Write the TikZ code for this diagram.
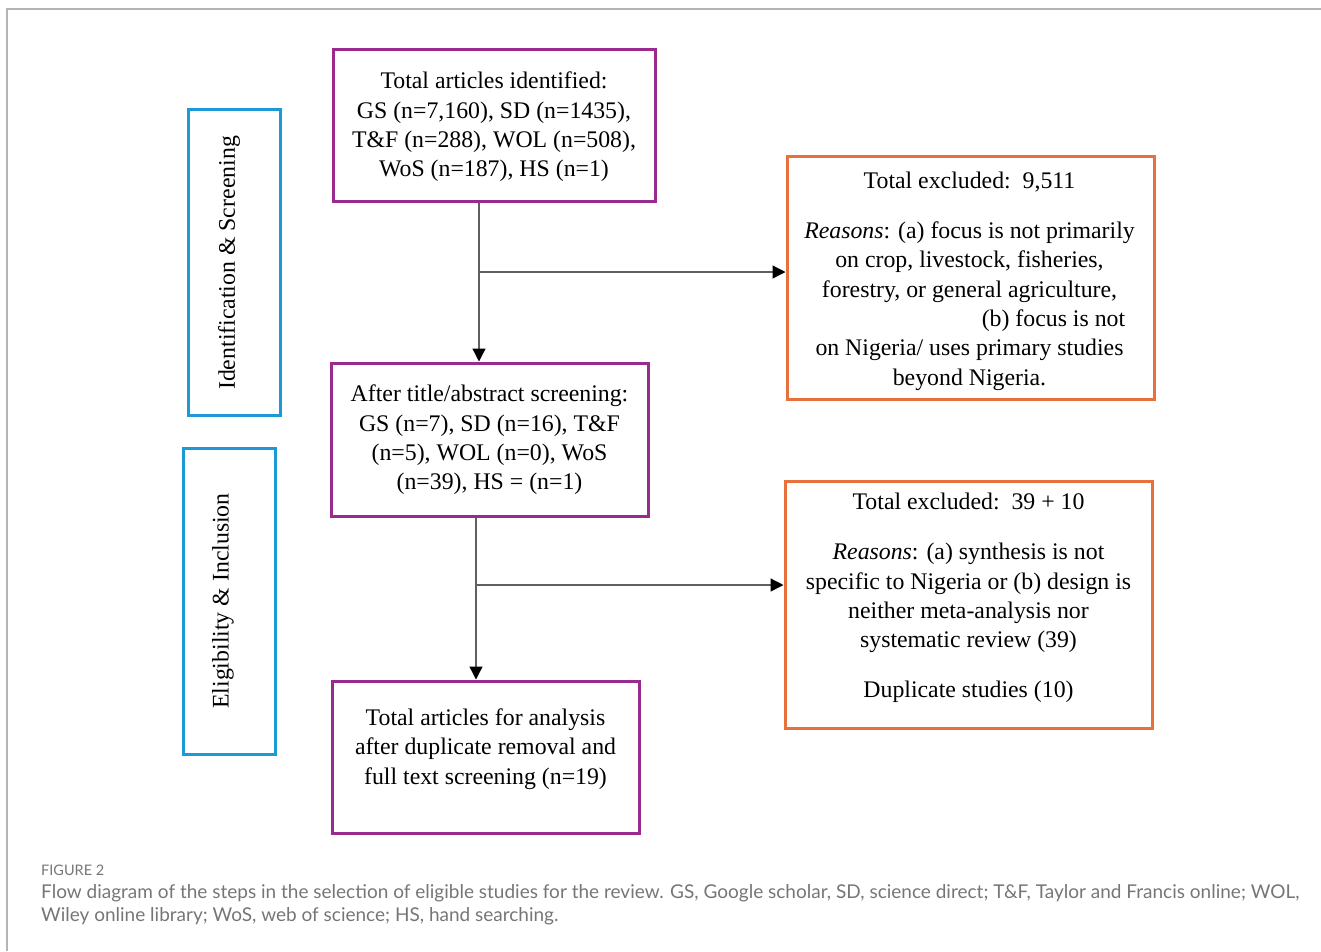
\documentclass[tikz,border=0pt]{standalone}
\usepackage{fontspec}
\setmainfont{Liberation Serif}
\newfontfamily\capfont{Lato}
\usetikzlibrary{arrows.meta}
\definecolor{pur}{HTML}{9B2A8F}
\definecolor{org}{HTML}{E8703A}
\definecolor{blu}{HTML}{1C9AD6}
\definecolor{frm}{HTML}{B4B4B4}
\definecolor{capg}{HTML}{767676}
\definecolor{lin}{HTML}{606060}
\begin{document}
\begin{tikzpicture}[x=1pt,y=-1pt,
  pbox/.style={draw=pur, line width=3pt, inner sep=0pt},
  obox/.style={draw=org, line width=3pt, inner sep=0pt},
  bbox/.style={draw=blu, line width=3pt, inner sep=0pt},
  txt/.style={font=\fontsize{23.8}{29.3}\selectfont, align=center, inner sep=0pt},
  conn/.style={draw=lin, line width=1.3pt},
  arr/.style={conn, -{Triangle[length=13pt,width=13pt,color=black]}},
  captxt/.style={font=\capfont\fontsize{19}{23}\selectfont, text=capg, inner sep=0pt, anchor=base west}
]
\useasboundingbox (0,0) rectangle (1321,951);
% frame
\draw[frm, line width=2pt] (7,951) -- (7,9) -- (1321,9);

% side labels
\node[bbox, minimum width=92pt, minimum height=306pt] (s1) at (234,262) {};
\node[txt, rotate=90] (s1t) at (229,263) {Identification \& Screening};
\node[bbox, minimum width=92pt, minimum height=306pt] (s2) at (229,601) {};
\node[txt, rotate=90] (s2t) at (223,601) {Eligibility \& Inclusion};

% main boxes
\node[pbox, minimum width=322pt, minimum height=152pt] (b1) at (494,125) {};
\node[txt] (b1t) at (494,127) {Total articles identified:\\ GS (n=7,160), SD (n=1435),\\ T\&F (n=288), WOL (n=508),\\ WoS (n=187), HS (n=1)};

\node[pbox, minimum width=317pt, minimum height=153pt] (b2) at (489.5,439.5) {};
\node[txt] (b2t) at (489.5,440) {After title/abstract screening:\\ GS (n=7), SD (n=16), T\&F\\ (n=5), WOL (n=0), WoS\\ (n=39), HS = (n=1)};

\node[pbox, minimum width=307pt, minimum height=152pt] (b3) at (485.5,757) {};
\node[txt] (b3t) at (485.5,749) {Total articles for analysis\\ after duplicate removal and\\ full text screening (n=19)};

% exclusion boxes
\node[obox, minimum width=367pt, minimum height=243pt] (o1) at (970.5,277.5) {};
\node[txt] (o1t) at (969.5,281) {Total excluded:\, 9,511\\[21pt]
  \textit{Reasons}: (a) focus is not primarily\\
  on crop, livestock, fisheries,\\
  forestry, or general agriculture,\\
  \hspace*{168pt}(b) focus is not\\
  on Nigeria/ uses primary studies\\
  beyond Nigeria.};

\node[obox, minimum width=367pt, minimum height=247pt] (o2) at (968.5,604.5) {};
\node[txt] (o2t) at (968.5,598) {Total excluded:\, 39 + 10\\[21pt]
  \textit{Reasons}: (a) synthesis is not\\
  specific to Nigeria or (b) design is\\
  neither meta-analysis nor\\
  systematic review (39)\\[21pt]
  Duplicate studies (10)};

% connectors
\coordinate (x1) at (479,0);
\coordinate (j1) at (479,272);
\draw[arr] (b1.south -| x1) -- (b2.north -| x1);
\draw[arr] (j1) -- (o1.west |- j1);

\coordinate (x2) at (476,0);
\coordinate (j2) at (477,585);
\draw[arr] (b2.south -| x2) -- (b3.north -| x2);
\draw[arr] (j2) -- (o2.west |- j2);

% caption
\node[captxt, font=\capfont\fontsize{14.5}{18}\selectfont] (fig) at (41,875) {FIGURE 2};
\node[captxt] (c1) at (41,898) {Flow diagram of the steps in the selection of eligible studies for the review. GS, Google scholar, SD, science direct; T\&F, Taylor and Francis online; WOL,};
\node[captxt] (c2) at (41,921) {Wiley online library; WoS, web of science; HS, hand searching.};
\end{tikzpicture}
\end{document}
